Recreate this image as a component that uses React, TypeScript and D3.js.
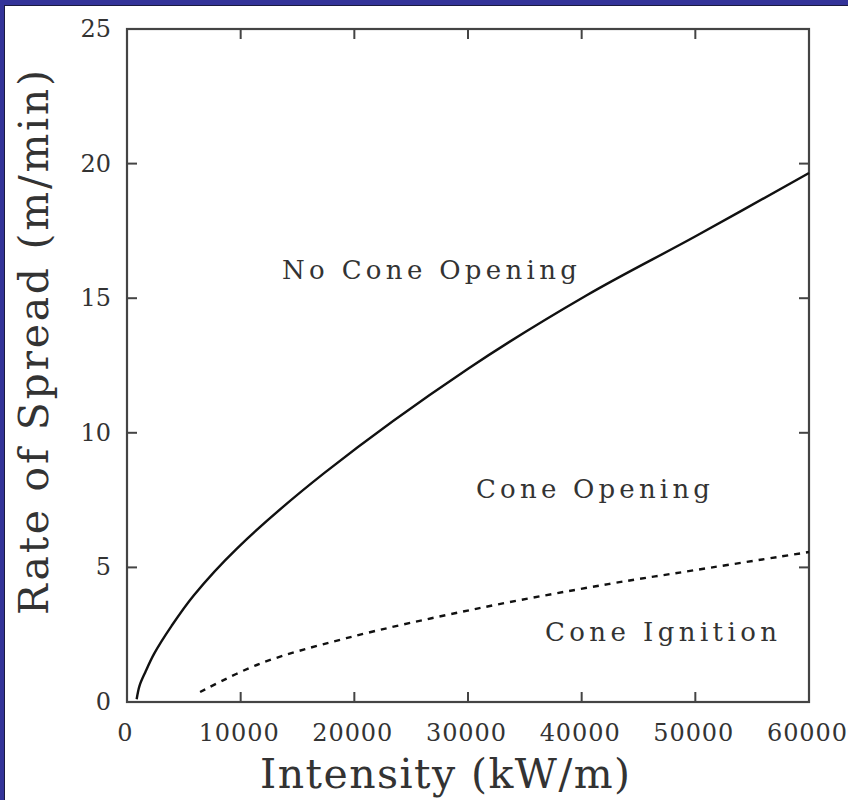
import React from "react";
import * as d3 from "d3";

// solid boundary: no cone opening / cone opening
const openIntensity = [850, 1100, 1600, 2380, 3925, 5850, 9690, 17370, 30040, 40410, 50020, 60000];
const openRate = [0.1, 0.6, 1.1, 1.79, 2.83, 3.95, 5.71, 8.51, 12.39, 15.1, 17.3, 19.65];

// dotted boundary: cone opening / cone ignition
const igniteIntensity = [6430, 11610, 19290, 30810, 42330, 50000, 60000];
const igniteRate = [0.37, 1.41, 2.37, 3.47, 4.38, 4.9, 5.57];

const xTicks = [0, 10000, 20000, 30000, 40000, 50000, 60000];
const yTicks = [0, 5, 10, 15, 20, 25];

const regionLabels = ["No Cone Opening", "Cone Opening", "Cone Ignition"];

export default function App() {
  const svgRef = React.useRef<SVGSVGElement>(null);

  React.useEffect(() => {
    const width = 848;
    const height = 800;
    const left = 127;
    const right = 809;
    const top = 29;
    const bottom = 702;
    const font = "'DejaVu Serif', 'Liberation Serif', serif";

    const svg = d3.select(svgRef.current).attr("width", width).attr("height", height);
    svg.selectAll("*").remove();

    // blue frame around the white page
    svg.append("rect").attr("width", width).attr("height", height).attr("fill", "#333399");
    svg.append("rect").attr("x", 4).attr("y", 5).attr("width", width).attr("height", height).attr("fill", "#1a1a40");
    svg.append("rect").attr("x", 5).attr("y", 6).attr("width", width).attr("height", height).attr("fill", "#ffffff");

    const x = d3.scaleLinear().domain([0, 60000]).range([left, right]);
    const y = d3.scaleLinear().domain([0, 25]).range([bottom, top]);

    // box
    svg
      .append("rect")
      .attr("x", left)
      .attr("y", top)
      .attr("width", right - left)
      .attr("height", bottom - top)
      .attr("fill", "none")
      .attr("stroke", "#444")
      .attr("stroke-width", 2.2);

    // inward ticks on all sides
    const tickLen = 10;
    const ticks = svg.append("g").attr("stroke", "#444").attr("stroke-width", 2);
    xTicks.slice(1, -1).forEach((t) => {
      ticks.append("line").attr("x1", x(t)).attr("x2", x(t)).attr("y1", bottom).attr("y2", bottom - tickLen);
      ticks.append("line").attr("x1", x(t)).attr("x2", x(t)).attr("y1", top).attr("y2", top + tickLen);
    });
    yTicks.slice(1, -1).forEach((t) => {
      ticks.append("line").attr("x1", left).attr("x2", left + tickLen).attr("y1", y(t)).attr("y2", y(t));
      ticks.append("line").attr("x1", right).attr("x2", right - tickLen).attr("y1", y(t)).attr("y2", y(t));
    });

    // tick labels
    svg
      .append("g")
      .selectAll("text")
      .data(xTicks)
      .enter()
      .append("text")
      .attr("x", (d) => x(d) - 2)
      .attr("y", 741)
      .attr("text-anchor", "middle")
      .attr("font-family", font)
      .attr("font-size", 24)
      .attr("fill", "#333")
      .attr("textLength", (d) => String(d).length * 16)
      .attr("lengthAdjust", "spacing")
      .text((d) => String(d));

    svg
      .append("g")
      .selectAll("text")
      .data(yTicks)
      .enter()
      .append("text")
      .attr("x", 111)
      .attr("y", (d) => y(d) + 8)
      .attr("text-anchor", "end")
      .attr("font-family", font)
      .attr("font-size", 24)
      .attr("fill", "#333")
      .text((d) => String(d));

    // axis titles
    svg
      .append("text")
      .attr("x", 260)
      .attr("y", 788)
      .attr("font-family", font)
      .attr("font-size", 41)
      .attr("fill", "#333")
      .attr("textLength", 370)
      .attr("lengthAdjust", "spacing")
      .text("Intensity (kW/m)");

    svg
      .append("text")
      .attr("transform", "translate(48, 615) rotate(-90)")
      .attr("font-family", font)
      .attr("font-size", 41)
      .attr("fill", "#333")
      .attr("textLength", 545)
      .attr("lengthAdjust", "spacing")
      .text("Rate of Spread (m/min)");

    // curves
    const line = d3
      .line<[number, number]>()
      .x((d) => x(d[0]))
      .y((d) => y(d[1]))
      .curve(d3.curveCatmullRom.alpha(0.5));

    const openPts = openIntensity.map((v, i) => [v, openRate[i]] as [number, number]);
    const ignitePts = igniteIntensity.map((v, i) => [v, igniteRate[i]] as [number, number]);

    svg
      .append("path")
      .attr("d", line(openPts))
      .attr("fill", "none")
      .attr("stroke", "#111")
      .attr("stroke-width", 2.4);

    svg
      .append("path")
      .attr("d", line(ignitePts))
      .attr("fill", "none")
      .attr("stroke", "#111")
      .attr("stroke-width", 2.4)
      .attr("stroke-dasharray", "6,6");

    // region labels
    const labelPos = [
      { x: 282, y: 279, w: 295 },
      { x: 476, y: 498, w: 234 },
      { x: 545, y: 641, w: 232 },
    ];
    regionLabels.forEach((label, i) => {
      svg
        .append("text")
        .attr("x", labelPos[i].x)
        .attr("y", labelPos[i].y)
        .attr("font-family", font)
        .attr("font-size", 26)
        .attr("fill", "#333")
        .attr("textLength", labelPos[i].w)
        .attr("lengthAdjust", "spacing")
        .text(label);
    });
  }, []);

  return (
    <>
      <svg ref={svgRef} style={{ position: "absolute", left: 0, top: 0 }} />
    </>
  );
}
